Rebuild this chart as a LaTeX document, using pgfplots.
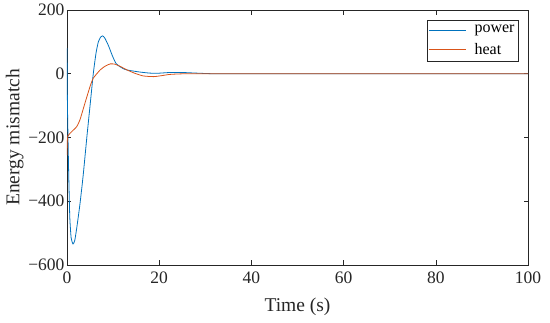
\documentclass[border=0pt]{standalone}
\usepackage{pgfplots}
\pgfplotsset{compat=1.18}
\usepackage{fontspec}
\setmainfont{Liberation Serif}
\definecolor{mblue}{rgb}{0,0.447,0.741}
\definecolor{morange}{rgb}{0.85,0.325,0.098}
\definecolor{axgray}{gray}{0.15}
\begin{document}
\begin{tikzpicture}
\path[use as bounding box] (-67pt,-58pt) rectangle (483pt,265pt);
\begin{axis}[
  at={(0,0)}, anchor=south west,
  scale only axis, width=461pt, height=255pt,
  xmin=0, xmax=100, ymin=-600, ymax=200,
  xtick={0,20,40,60,80,100},
  ytick={-600,-400,-200,0,200},
  yticklabels={−600,−400,−200,0,200},
  tick align=inside,
  major tick length=4.5pt,
  axis line style={axgray, line width=0.5pt},
  every tick/.style={axgray, line width=0.5pt},
  tick label style={font=\fontsize{17.5}{17.5}\selectfont, text=axgray},
  xticklabel style={yshift=-3pt},
  yticklabel style={xshift=1pt},
  /pgf/number format/assume math mode=true,
  xlabel={Time (s)},
  ylabel={Energy mismatch},
  label style={font=\fontsize{19.5}{19.5}\selectfont, text=axgray},
  xlabel style={yshift=-8pt},
  ylabel style={yshift=-2pt},
  legend style={at={(0.98,0.96)}, anchor=north east, draw=axgray, line width=0.5pt,
     font=\fontsize{16}{16}\selectfont, inner xsep=2pt, inner ysep=3pt, row sep=5pt,
     legend cell align=left},
]
\addplot[color=mblue, line width=0.8pt, smooth, tension=0.35,
  legend image code/.code={\draw[mblue, line width=0.8pt] (0cm,0cm) -- (1.3cm,0cm); \path (1.5cm,0cm);}] coordinates {
(0,80) (0.1,-100) (0.35,-300) (0.6,-448) (0.9,-515) (1.3,-534) (1.7,-522)
(2.2,-475) (2.8,-410) (3.5,-320) (4.3,-200) (5.0,-100) (5.7,0) (6.3,65)
(6.8,100) (7.3,115) (7.7,119) (8.2,112) (9.0,88) (9.8,58) (10.6,33)
(11.5,22) (12.5,14) (13.7,10) (16,5) (18,2) (19.6,1.5) (22.4,4) (25,4) (28,2)
(32,0) (40,0) (60,0) (80,0) (100,0)
};
\addlegendentry{power}
\addplot[color=morange, line width=0.8pt, smooth, tension=0.35,
  legend image code/.code={\draw[morange, line width=0.8pt] (0cm,0cm) -- (1.3cm,0cm); \path (1.5cm,0cm);}] coordinates {
(0,-255) (0.05,-215) (0.2,-195) (1.0,-182) (2.1,-166) (2.8,-145) (3.9,-92)
(5.0,-40) (5.7,-14) (7.2,12) (8.3,24) (9.4,31) (10.4,30) (11.7,22) (13,12)
(14.8,1) (16.6,-7) (18.8,-9) (20.5,-6) (22.4,-2) (26,0) (40,0) (60,0) (80,0) (100,0)
};
\addlegendentry{heat}
\end{axis}
\end{tikzpicture}
\end{document}
